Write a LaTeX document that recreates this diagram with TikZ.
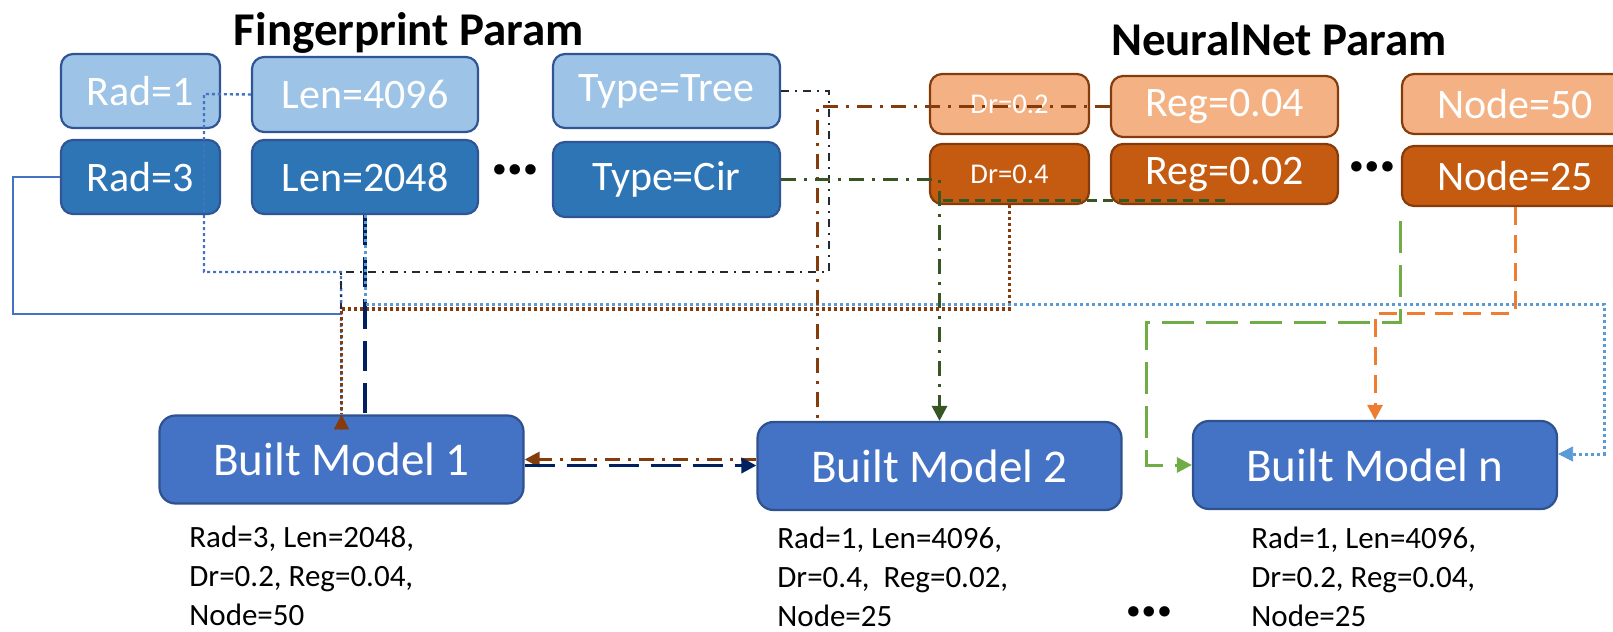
\documentclass[tikz,border=0pt]{standalone}
\usepackage{fontspec}
\setmainfont{Carlito}
\usetikzlibrary{arrows.meta}

% box colours
\definecolor{fplight}{HTML}{9DC3E6}
\definecolor{fpdark}{HTML}{2E75B6}
\definecolor{fpedge}{HTML}{2F5597}
\definecolor{nnlight}{HTML}{F4B183}
\definecolor{nndark}{HTML}{C55A11}
\definecolor{nnedge}{HTML}{843C0C}
\definecolor{modelfill}{HTML}{4472C4}
\definecolor{modeledge}{HTML}{2F528F}
% line colours
\definecolor{navyline}{HTML}{002060}
\definecolor{skyline}{HTML}{5B9BD5}
\definecolor{pineline}{HTML}{375623}
\definecolor{leafline}{HTML}{70AD47}
\definecolor{tanline}{HTML}{ED7D31}
\definecolor{slateline}{HTML}{222A35}

\begin{document}
\begin{tikzpicture}[x=0.5pt, y=-0.5pt,
    parbox/.style={rounded corners=6pt, line width=1.1pt, text=white, inner sep=0pt, font=\fontsize{21}{21}\selectfont},
    fplo/.style={parbox, fill=fplight, draw=fpedge},
    fphi/.style={parbox, fill=fpdark, draw=fpedge},
    nnlo/.style={parbox, fill=nnlight, draw=nnedge},
    nnhi/.style={parbox, fill=nndark, draw=nnedge},
    modelbox/.style={rounded corners=8pt, line width=1.1pt, fill=modelfill, draw=modeledge, text=white,
      minimum width=182pt, minimum height=44pt, inner sep=0pt, font=\fontsize{23.5}{23.5}\selectfont},
    % base of a multi-line spec sits on its last line
    spec/.style={anchor=base west, align=left, inner sep=0pt, font=\fontsize{15.5}{19.5}\selectfont},
    heading/.style={anchor=base, inner sep=0pt, font=\bfseries\fontsize{23.5}{23.5}\selectfont},
    more/.style={anchor=base, inner sep=0pt, font=\bfseries\fontsize{35}{35}\selectfont},
    arrowto/.style={-{Triangle[length=7.5pt,width=7.5pt]}},
    dashdot/.style={dash pattern=on 7.5pt off 4pt on 1.5pt off 4pt},
    thindashdot/.style={dash pattern=on 4pt off 3pt on 1pt off 3pt},
    squaredots/.style={dash pattern=on 1.5pt off 1.5pt},
  ]
  \useasboundingbox (0,0) rectangle (1613,632);

  % Headings
  \node[heading] (fptitle) at (409,45) {Fingerprint Param};
  \node[heading] (nntitle) at (1279,55) {NeuralNet Param};

  % Fingerprint parameters
  \node[fplo, minimum width=79.5pt, minimum height=37pt] (rad1) at (140.5,91) {Rad=1};
  \node[fphi, minimum width=79.5pt, minimum height=37pt] (rad3) at (140.5,177) {Rad=3};
  \node[fplo, minimum width=113pt, minimum height=37.5pt] (len4096) at (365,94.5) {Len=4096};
  \node[fphi, minimum width=113pt, minimum height=37pt] (len2048) at (365,177) {Len=2048};
  \node[more] (fpmore) at (515,174) {…};
  \node[fplo, minimum width=113.5pt, minimum height=37pt] (tree) at (666.5,91) {Type=Tree};
  \node[fphi, minimum width=113.5pt, minimum height=37.5pt] (cir) at (666.5,179.5) {Type=Cir};

  % Network parameters
  \node[nnlo, minimum width=79.5pt, minimum height=30pt, font=\fontsize{14.3}{14.3}\selectfont] (dr02) at (1009.5,104) {Dr=0.2};
  \node[nnhi, minimum width=79.5pt, minimum height=30pt, font=\fontsize{14.3}{14.3}\selectfont] (dr04) at (1009.5,174) {Dr=0.4};
  \node[nnlo, minimum width=113.5pt, minimum height=30.5pt] (reg004) at (1224.5,106.5) {Reg=0.04};
  \node[nnhi, minimum width=113.5pt, minimum height=30pt] (reg002) at (1224.5,174) {Reg=0.02};
  \node[more] (nnmore) at (1372,171) {…};
  \node[nnlo, minimum width=113pt, minimum height=30pt] (node50) at (1515,104) {Node=50};
  \node[nnhi, minimum width=113pt, minimum height=30pt] (node25) at (1515,176) {Node=25};

  % Built models
  \node[modelbox] (model1) at (341.5,459.5) {Built Model 1};
  \node[modelbox] (model2) at (939.5,466) {Built Model 2};
  \node[modelbox] (modeln) at (1375,465) {Built Model n};

  \node[spec] (spec1) at (189,625) {Rad=3, Len=2048,\\Dr=0.2, Reg=0.04,\\Node=50};
  \node[spec] (spec2) at (777,626) {Rad=1, Len=4096,\\Dr=0.4,~ Reg=0.02,\\Node=25};
  \node[spec] (specn) at (1251,626) {Rad=1, Len=4096,\\Dr=0.2, Reg=0.04,\\Node=25};
  \node[more] (modmore) at (1149,616) {…};

  % Bends of the wiring
  \coordinate (rad1tap) at (204,94);
  \coordinate (treebus) at (341,272);
  \coordinate (treeturn) at (829,272);
  \coordinate (dotbus) at (0,309);
  \coordinate (railL) at (13,314);
  \coordinate (railB) at (341,314);
  \coordinate (skyturn) at (1604,304);
  \coordinate (leafturn) at (1146,322);
  \coordinate (tanbus) at (0,313);

  % Wiring into model 1
  \draw[modelfill, line width=1.2pt, squaredots] (len4096.west) -- (rad1tap) |- (treebus) -- (model1.north);
  \draw[modelfill, line width=0.8pt] (rad3.west) -| (railL) -- (railB);
  \draw[slateline, line width=1.2pt, thindashdot] (tree.east) -| (treeturn) -- (treebus) -- (treebus |- dotbus);
  \draw[nnedge, line width=1.6pt, squaredots] (dr04.south) -- (dr04.south |- dotbus) -| (model1.north);
  \draw[nnedge, arrowto] ([yshift=-7.5pt]model1.north) -- (model1.north);
  \draw[navyline, line width=1.8pt, dash pattern=on 15pt off 6pt] (len2048.south) -- (len2048.south |- model1.north);
  \draw[skyline, line width=1.5pt, squaredots] (len2048.south) |- (skyturn) |- ([yshift=5.5pt]modeln.east);
  \draw[skyline, arrowto] ([yshift=5.5pt,xshift=7.5pt]modeln.east) -- ([yshift=5.5pt]modeln.east);

  % Wiring into model 2
  \draw[nnedge, line width=1.6pt, dashdot] (reg004.west) -| ([xshift=-61pt]model2.north);
  \draw[pineline, line width=1.6pt, dashdot, arrowto] (cir.east) -| (model2.north);
  \draw[pineline, line width=1.6pt, dash pattern=on 5pt off 3pt] ([yshift=2.5pt]reg002.south) -- ([yshift=2.5pt]reg002.south -| model2.north);
  \draw[nnedge, line width=1.6pt, dashdot, arrowto] (model1.east -| model2.west) -- (model1.east);
  \draw[navyline, line width=1.8pt, dash pattern=on 15pt off 6pt, arrowto] ([yshift=-3pt]model1.east) -- ([yshift=-3pt]model1.east -| model2.west);

  % Wiring into model n
  \draw[leafline, line width=1.5pt, dash pattern=on 16pt off 6pt, arrowto] ([yshift=-7pt]node25.south west) |- (leafturn) |- (modeln.west);
  \draw[tanline, line width=1.5pt, dash pattern=on 9pt off 5pt, arrowto] (node25.south) -- (node25.south |- tanbus) -| (modeln.north);
\end{tikzpicture}
\end{document}
